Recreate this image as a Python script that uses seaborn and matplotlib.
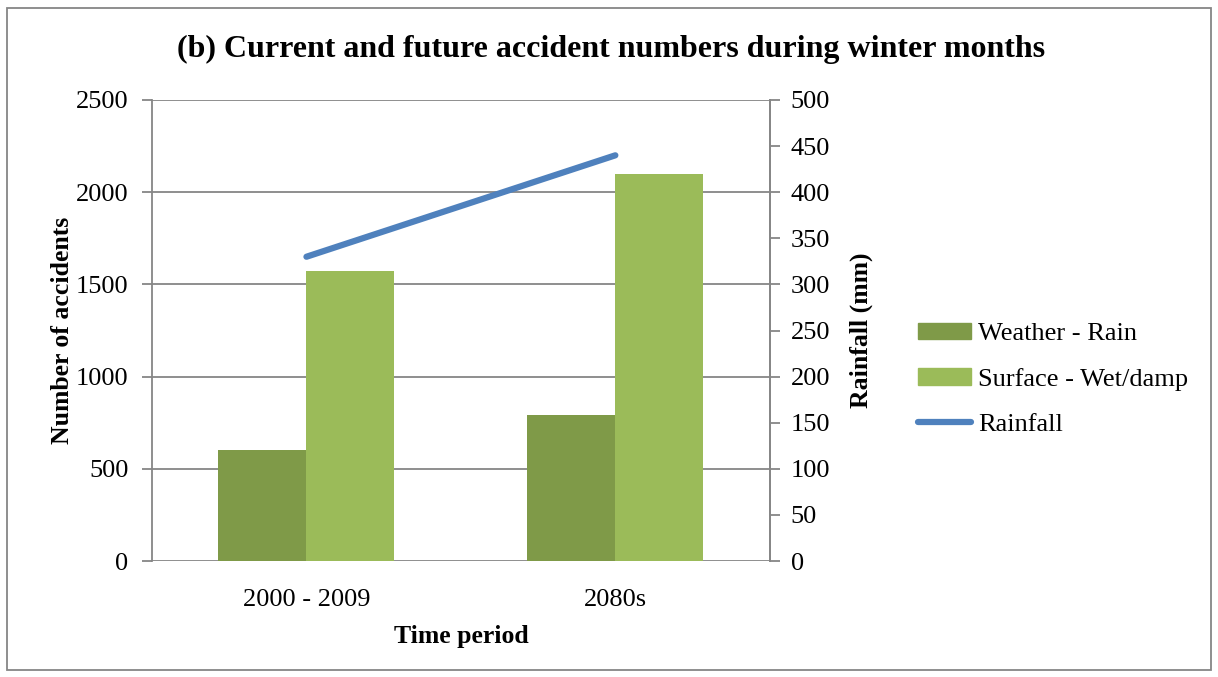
import matplotlib
matplotlib.use("Agg")
import matplotlib.pyplot as plt
import seaborn as sns
import numpy as np
import pandas as pd
from matplotlib.patches import Rectangle

periods = ["2000 - 2009", "2080s"]
weather_rain = [600, 790]
surface_wet = [1575, 2100]
rainfall = [330, 440]
series_names = ["Weather - Rain", "Surface - Wet/damp"]

sns.set_theme(style="white")
plt.rcParams['font.family'] = ['Liberation Serif', 'DejaVu Serif']
plt.rcParams['text.color'] = 'black'
plt.rcParams['axes.labelcolor'] = 'black'
plt.rcParams['xtick.color'] = 'black'
plt.rcParams['ytick.color'] = 'black'

GRAY = "#868686"
C_WEATHER = "#7F9A48"
C_SURFACE = "#9BBB59"
C_RAIN = "#4F81BD"

df = pd.DataFrame({
    "period": periods * 2,
    "series": [series_names[0]] * len(periods) + [series_names[1]] * len(periods),
    "value": weather_rain + surface_wet,
})

fig = plt.figure(figsize=(12.18, 6.77), dpi=100)
ax = fig.add_axes([0.1248, 0.1713, 0.632 - 0.1248, 0.8523 - 0.1713])

sns.barplot(data=df, x="period", y="value", hue="series", order=periods,
            hue_order=series_names, palette=[C_WEATHER, C_SURFACE],
            width=0.57, saturation=1, ax=ax, legend=False, linewidth=0)

ax.set_xlim(-0.5, len(periods) - 0.5)
ax.set_ylim(0, 2500)
ax.set_yticks(np.arange(0, 2501, 500))
ax.yaxis.grid(True, color=GRAY, linewidth=1.3)
ax.set_axisbelow(True)
for s in ["top", "bottom"]:
    ax.spines[s].set_visible(False)
for s in ["left", "right"]:
    ax.spines[s].set_color(GRAY)
    ax.spines[s].set_linewidth(1.3)
ax.tick_params(axis="y", which="both", left=True, length=7, width=1.3,
               color=GRAY, labelcolor="black", labelsize=19, pad=10)
ax.tick_params(axis="x", bottom=False, labelsize=19, labelcolor="black", pad=14)
ax.set_xlabel("Time period", fontsize=18.5, fontweight="bold", labelpad=10)
ax.set_ylabel("Number of accidents", fontsize=18.5, fontweight="bold", labelpad=1)

ax2 = ax.twinx()
sns.lineplot(x=np.arange(len(periods)), y=rainfall, ax=ax2, color=C_RAIN,
             linewidth=4.5, solid_capstyle="round", legend=False)
ax2.set_ylim(0, 500)
ax2.set_yticks(np.arange(0, 501, 50))
for s in ["top", "bottom", "left"]:
    ax2.spines[s].set_visible(False)
ax2.spines["right"].set_color(GRAY)
ax2.spines["right"].set_linewidth(1.3)
ax2.tick_params(axis="y", right=True, length=7, width=1.3, color=GRAY,
                labelcolor="black", labelsize=19, pad=8)
ax2.set_ylabel("Rainfall (mm)", fontsize=18.5, fontweight="bold", labelpad=14)
ax2.set_xlim(-0.5, len(periods) - 0.5)

fig.suptitle("(b) Current and future accident numbers during winter months",
             fontsize=23, fontweight="bold", x=0.502, y=0.948)

handles = [Rectangle((0, 0), 1, 1, color=C_WEATHER),
           Rectangle((0, 0), 1, 1, color=C_SURFACE),
           plt.Line2D([0], [0], color=C_RAIN, linewidth=4.5, solid_capstyle="round")]
fig.legend(handles, series_names + ["Rainfall"], loc="center left",
           bbox_to_anchor=(0.734, 0.44), frameon=False, fontsize=19,
           handlelength=2.0, handleheight=0.6, handletextpad=0.3,
           labelspacing=0.85)

fig.patches.append(Rectangle((0.006, 0.01), 0.988, 0.978, transform=fig.transFigure,
                             fill=False, edgecolor=GRAY, linewidth=1.3))

fig.savefig("out.png", dpi=100)
